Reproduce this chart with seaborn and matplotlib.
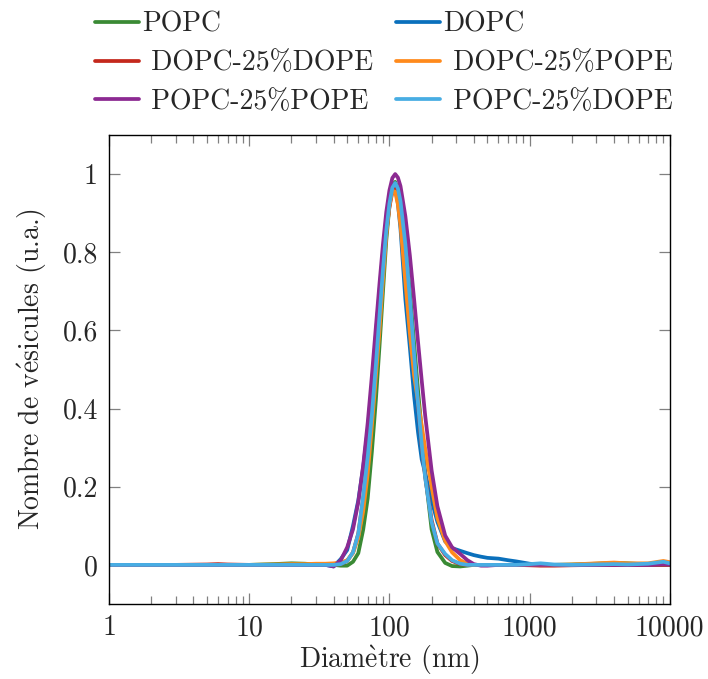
import numpy as np
import pandas as pd
import matplotlib
matplotlib.use("Agg")
import matplotlib.pyplot as plt
import matplotlib.ticker as mticker
import seaborn as sns

# ------------------------------------------------------------------
# data (diameter in nm, normalised number)
# ------------------------------------------------------------------
diam = [1, 3, 5, 6, 7, 10, 15, 20, 25, 30,
        35, 40, 45, 50, 55, 60, 65, 70, 75, 80,
        85, 90, 95, 100, 105, 110, 115, 120, 130, 140,
        150, 160, 170, 180, 200, 220, 250, 280, 320, 360,
        400, 450, 500, 600, 700, 800, 1000, 1200, 1500, 2000,
        3000, 4000, 5000, 7000, 9000, 10000]

popc = [0, 0, 0, 0, 0, 0, 0.002, 0.004, 0.003, 0.001,
        0, 0, -0.002, -0.002, 0.008, 0.03, 0.09, 0.17, 0.29, 0.42,
        0.56, 0.70, 0.83, 0.918, 0.97, 0.98, 0.962, 0.929, 0.826, 0.699,
        0.568, 0.447, 0.345, 0.234, 0.091, 0.033, 0.005, -0.003, -0.004, -0.002,
        0, 0, 0, 0, 0, 0, 0, 0, 0, 0.001,
        0.003, 0.005, 0.004, 0.001, 0.002, 0.002]

dopc = [0, 0, 0, 0, 0, 0, 0, 0, 0, 0,
        0, -0.004, 0.015, 0.038, 0.10, 0.165, 0.25, 0.345, 0.46, 0.585,
        0.70, 0.80, 0.88, 0.935, 0.965, 0.965, 0.925, 0.86, 0.68, 0.556,
        0.433, 0.34, 0.27, 0.235, 0.165, 0.11, 0.06, 0.043, 0.036, 0.03,
        0.025, 0.021, 0.018, 0.016, 0.012, 0.009, 0.003, 0, 0, 0,
        0, 0, 0, 0, 0, 0]

dopc_dope = [0, 0, 0.001, 0.002, 0.001, 0, 0, 0, 0, 0,
             0, 0, 0.002, 0.01, 0.032, 0.08, 0.17, 0.27, 0.385, 0.51,
             0.635, 0.75, 0.85, 0.915, 0.955, 0.965, 0.95, 0.915, 0.80, 0.665,
             0.53, 0.41, 0.305, 0.225, 0.115, 0.055, 0.025, 0.01, 0.002, 0,
             0, 0, 0, 0, 0, 0, -0.001, -0.002, -0.002, -0.001,
             0, 0, 0, 0, 0, 0]

dopc_pope = [0, 0, 0, 0, 0, 0, 0.001, 0.002, 0.002, 0.003,
             0.003, 0.004, 0.006, 0.012, 0.03, 0.07, 0.137, 0.233, 0.356, 0.48,
             0.60, 0.73, 0.845, 0.92, 0.957, 0.955, 0.922, 0.869, 0.725, 0.592,
             0.485, 0.418, 0.357, 0.298, 0.20, 0.12, 0.061, 0.032, 0.012, 0.003,
             0, 0, 0, 0, 0, 0, 0, 0, 0, 0.001,
             0.004, 0.006, 0.004, 0.004, 0.01, 0.007]

popc_pope = [0, 0, 0, 0, 0, 0, 0, 0, 0, 0,
             0, -0.004, 0.012, 0.045, 0.091, 0.161, 0.254, 0.363, 0.484, 0.607,
             0.72, 0.821, 0.903, 0.958, 0.99, 1.0, 0.991, 0.969, 0.892, 0.791,
             0.68, 0.571, 0.472, 0.382, 0.242, 0.15, 0.075, 0.045, 0.028, 0.012,
             0.002, -0.002, -0.002, 0, 0, 0, 0, 0, 0, 0,
             0, 0, 0, 0, 0.002, 0.001]

popc_dope = [0, 0, 0, 0, 0, 0, 0, 0, 0, 0,
             0, 0, 0.002, 0.01, 0.032, 0.08, 0.175, 0.275, 0.385, 0.509,
             0.637, 0.756, 0.855, 0.924, 0.965, 0.977, 0.963, 0.93, 0.82, 0.682,
             0.54, 0.413, 0.308, 0.223, 0.11, 0.055, 0.028, 0.012, 0.003, 0,
             0, 0, 0, 0, 0, 0, 0.002, 0.004, 0.001, 0,
             0.001, 0.002, 0.001, 0.003, 0.008, 0.004]

series = ["POPC", "DOPC", "DOPC-25%DOPE", "DOPC-25%POPE", "POPC-25%POPE", "POPC-25%DOPE"]
values = [popc, dopc, dopc_dope, dopc_pope, popc_pope, popc_dope]
colors = ["#3a8a34", "#0a70bc", "#c4281c", "#ff8a1c", "#8c2a92", "#48ade3"]

df = pd.concat([pd.DataFrame({"Diametre": diam, "Nombre": v, "Serie": s})
                for s, v in zip(series, values)], ignore_index=True)

# ------------------------------------------------------------------
# style
# ------------------------------------------------------------------
sns.set_style("ticks")
plt.rcParams["font.family"] = ["cmr10", "DejaVu Serif"]
plt.rcParams["mathtext.fontset"] = "cm"
plt.rcParams["axes.formatter.use_mathtext"] = True
FS = 20

fig, ax = plt.subplots(figsize=(7.08, 6.79), dpi=100)
fig.subplots_adjust(left=0.154, right=0.946, bottom=0.1105, top=0.8012)

sns.lineplot(data=df, x="Diametre", y="Nombre", hue="Serie", hue_order=series,
             palette=dict(zip(series, colors)), estimator=None, linewidth=2.7,
             ax=ax, legend=False)

ax.set_xscale("log")
ax.set_xlim(1, 10000)
ax.set_ylim(-0.1, 1.1)

xt = [1, 10, 100, 1000, 10000]
ax.set_xticks(xt)
ax.set_xticklabels([str(t) for t in xt])
ax.xaxis.set_minor_locator(mticker.LogLocator(base=10, subs=np.arange(2, 10), numticks=20))
ax.xaxis.set_minor_formatter(mticker.NullFormatter())
yt = [0, 0.2, 0.4, 0.6, 0.8, 1]
ax.set_yticks(yt)
ax.set_yticklabels(["0", "0.2", "0.4", "0.6", "0.8", "1"])

ax.tick_params(which="both", direction="in", top=True, right=True, color="#808080", width=0.9)
ax.tick_params(which="major", length=8, pad=8, labelsize=FS)
ax.tick_params(which="minor", length=5.5)
for sp in ax.spines.values():
    sp.set_color("black")
    sp.set_linewidth(1.0)

# accented letters through mathtext so they stay in Computer Modern
ax.set_xlabel(r"Diam$\grave{\mathrm{e}}$tre (nm)", fontsize=FS, labelpad=1.5)
ax.set_ylabel(r"Nombre de v$\acute{\mathrm{e}}$sicules (u.a.)", fontsize=FS, labelpad=10)

# legend: two columns above the axes, row-wise order like pgfplots
labels = ["POPC", "DOPC", " DOPC-25%DOPE", " DOPC-25%POPE", " POPC-25%POPE", " POPC-25%DOPE"]
handles = [plt.Line2D([], [], color=c, linewidth=2.7) for c in colors]
idx = [0, 2, 4, 1, 3, 5]
fig.legend([handles[i] for i in idx], [labels[i] for i in idx],
           loc="upper left", bbox_to_anchor=(0.118, 1.0), ncol=2, frameon=False,
           fontsize=FS, handlelength=1.6, handletextpad=0.12, columnspacing=0.8,
           labelspacing=0.45, borderaxespad=0)

fig.savefig("out.png", dpi=100)
